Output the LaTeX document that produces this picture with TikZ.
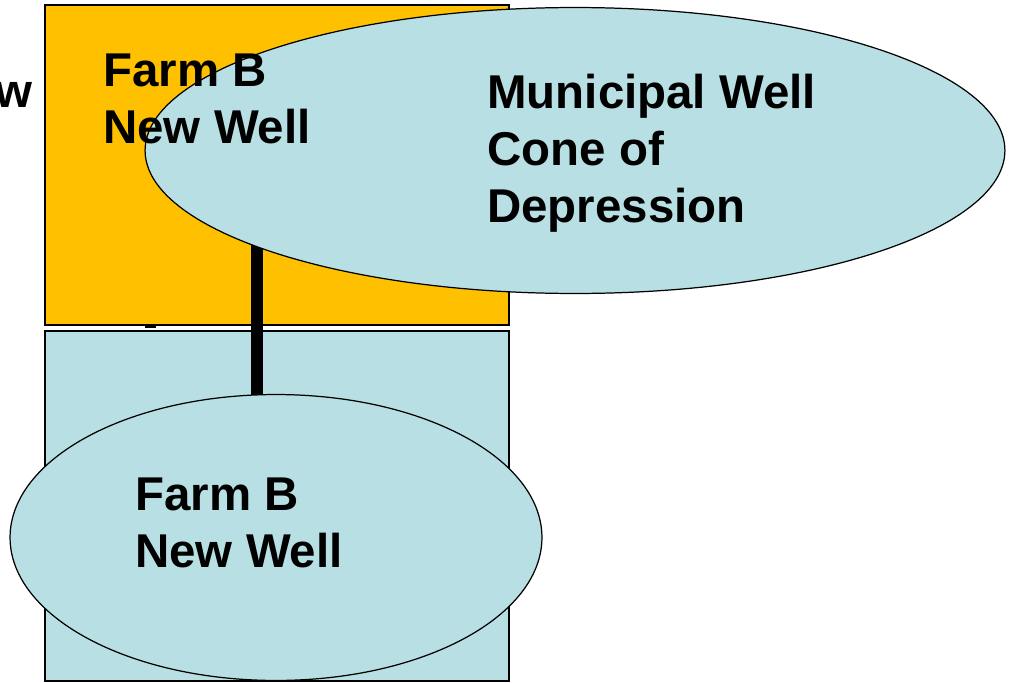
\documentclass[tikz,border=0pt]{standalone}
\usepackage{fontspec}
\setmainfont{Liberation Sans}
\usetikzlibrary{positioning, shapes.geometric}
\definecolor{farmorange}{RGB}{255,192,0}
\definecolor{waterblue}{RGB}{184,223,227}
\tikzset{
  zone/.style={draw=black, line width=0.7pt},
  cone/.style={ellipse, draw=black, line width=0.7pt, fill=waterblue, inner sep=0pt},
  lbl/.style={inner sep=0pt, anchor=base west, align=left,
    font=\fontsize{27}{32.4}\selectfont\bfseries}}

\begin{document}
\begin{tikzpicture}[x=0.02cm, y=-0.02cm]
	\useasboundingbox (0,0) rectangle (1019,683);
	\fill[white] (0,0) rectangle (1019,683);
	\draw [zone, fill=farmorange] (45,5) rectangle (509,325);
	\draw [zone, fill=waterblue] (45,331) rectangle (509,681);
	\coordinate (pipetop) at (257,200);
	\coordinate (pipebot) at (257,430);
	\draw [line width=6.3pt] (pipetop) -- (pipebot);
	\draw [line width=1.2pt] (145,327) -- (156,327);
	\node [cone, minimum width=17.2cm, minimum height=5.72cm] (municipal) at (575,150.5) {};
	\node [cone, minimum width=10.64cm, minimum height=5.72cm] (newwell) at (276,537.5) {};
		% base of a two or three line label is its last line
		\node [lbl, anchor=base east] (cut) at (33,107) {w};
		\node [lbl] (farmtop) at (103,143) {Farm B\\New Well};
		\node [lbl] (conelbl) at (487,222) {Municipal Well\\Cone of\\Depression};
		\node [lbl] (farmbot) at (135,567) {Farm B\\New Well};
	\end{tikzpicture}
\end{document}
